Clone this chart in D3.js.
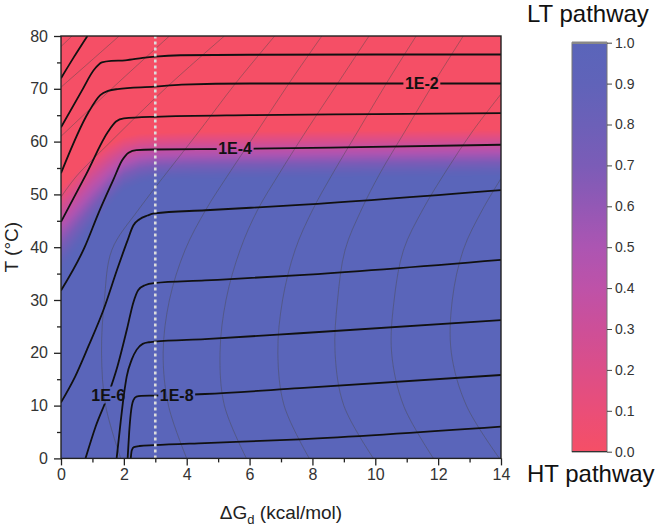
<!DOCTYPE html>
<html><head><meta charset="utf-8">
<script src="https://cdn.jsdelivr.net/npm/d3@7"></script>
<style>
body{margin:0;background:#fff}
svg{display:block}
text{font-family:"Liberation Sans",Arial,sans-serif}
</style>
</head><body>
<svg id="chart" width="666" height="527"></svg>
<script>
// ---------------- data ----------------
const xTicks = [0, 2, 4, 6, 8, 10, 12, 14];
const xMinor = [1, 3, 5, 7, 9, 11, 13];
const yTicks = [0, 10, 20, 30, 40, 50, 60, 70, 80];
const yMinor = [5, 15, 25, 35, 45, 55, 65, 75];
const cbTicks = [0, 0.1, 0.2, 0.3, 0.4, 0.5, 0.6, 0.7, 0.8, 0.9, 1.0];
const cbColors = ["#f54f66", "#ea4e78", "#dc4e88", "#cd4f98", "#be52a8", "#ac55b2",
                  "#9358b5", "#7b5cb7", "#6c60b8", "#6063b9", "#5a65ba"];
// 0.5 boundary of the LT/HT map (x, T) and half-width of the transition (T)
const boundaryX = [0, 0.5, 1.0, 1.5, 2.0, 2.5, 3, 4, 6, 8, 10, 12, 14];
const boundaryT = [43.5, 47, 50.5, 53.5, 55.8, 56.8, 57.2, 57.4, 57.5, 57.6, 57.7, 57.8, 57.9];
const boundaryW = [8, 7.5, 7, 6, 5.2, 4.8, 4.5, 4.5, 4.5, 4.5, 4.5, 4.5, 4.5];
// black contour lines [ΔGd, T]
const c1E0 = [[0,72],[0.4,75.9],[0.84,80]];
const c1E1 = [[0,62.7],[0.66,69.6],[1.05,73.6],[1.3,75.0],[1.6,75.3],[2.04,75.4],[2.6,75.85],[3,76.1],[3.8,76.35],[6,76.45],[10,76.5],[14,76.5]];
const c1E2 = [[0,54],[0.87,65.5],[1.25,68.8],[1.5,69.6],[1.8,69.95],[2.97,70.4],[3.84,70.8],[6,71.0],[10,71.0],[14,71.0]];
const c1E3 = [[0,44.8],[0.8,53.8],[1.5,61.9],[1.75,63.8],[2.0,64.4],[2.97,64.7],[6,65.0],[10,65.2],[14,65.4]];
const c1E4 = [[0,31.8],[0.76,40.1],[1.19,46.4],[1.66,52.7],[1.95,56.5],[2.15,57.9],[2.4,58.4],[2.97,58.5],[5.5,58.6],[9,58.9],[14,59.4]];
const c1E5 = [[0,10.6],[0.45,15.5],[0.87,21.2],[1.35,28.1],[1.8,36],[2.1,41],[2.3,44.1],[2.5,45.3],[2.75,46.0],[2.97,46.4],[4.6,47.0],[7.6,48.0],[14,50.8]];
const c1E6 = [[0.78,0],[1.1,6],[1.5,12],[1.8,17.5],[2.1,24.5],[2.3,29.5],[2.46,31.9],[2.67,32.8],[2.96,33.2],[4.58,33.7],[7.6,34.7],[14,37.6]];
const c1E7 = [[1.77,0],[1.9,7],[2.0,12],[2.09,15.5],[2.25,18.7],[2.41,20.6],[2.6,21.7],[2.8,22.0],[2.96,22.1],[4.58,22.6],[7.6,23.7],[14,26.2]];
const c1E8 = [[2.12,0],[2.17,5],[2.22,8.5],[2.3,11.0],[2.4,11.7],[2.55,11.85],[2.96,11.9],[4.58,12.2],[7.6,13.3],[14,15.8]];
const c1E9 = [[2.22,0],[2.25,1.5],[2.32,2.15],[2.5,2.35],[2.96,2.5],[4.58,2.9],[7.6,3.6],[14,6.0]];
// contour labels
const labelText = ["1E-2", "1E-4", "1E-6", "1E-8"];
const labelX = [11.48, 5.54, 1.5, 3.68];
const labelT = [71.0, 58.6, 12.0, 12.0];
// thin grey lines [ΔGd, T]
const g0 = [[0,78],[0.35,80]];
const g1 = [[0,70.3],[0.9,75],[1.85,80]];
const g2 = [[0,61],[1.7,70.5],[3.45,80]];
const g3 = [[0,49.5],[0.5,53.5],[1.5,59.5],[3.4,70.5],[5.2,80]];
const g4 = [[1.9,0],[1.42,10],[1.29,20],[1.38,30],[1.62,39.5],[2.45,47],[3.35,54],[4.4,62],[5.55,71],[6.8,80]];
const g5 = [[4.0,0],[3.42,10],[3.25,20],[3.45,30],[3.95,39.5],[4.6,47],[5.35,54],[6.25,62],[7.25,71],[8.3,80]];
const g6 = [[5.9,0],[5.2,10],[5.06,20],[5.25,30],[5.7,39.5],[6.25,47],[6.95,54],[7.8,62],[8.8,71],[9.8,80]];
const g7 = [[7.9,0],[7.1,10],[6.9,20],[7.05,30],[7.45,39.5],[8.0,47],[8.65,54],[9.45,62],[10.35,71],[11.3,80]];
const g8 = [[9.94,0],[9.0,10],[8.72,20],[8.8,30],[9.04,39.5],[9.55,47],[10.15,54],[10.95,62],[11.85,71],[12.8,80]];
const g9 = [[11.85,0],[10.9,10],[10.52,20],[10.6,30],[10.9,39.5],[11.5,47],[12.27,54.6],[13.1,62],[14,69]];
const g10 = [[13.95,0],[12.9,10],[12.42,20],[12.45,30],[12.8,39.5],[13.4,47],[14,53]];
const dividerX = 3;

// ---------------- layout ----------------
const svg = d3.select("#chart");
const x = d3.scaleLinear().domain([0, 14]).range([61, 501]);
const y = d3.scaleLinear().domain([0, 80]).range([458.4, 36]);
const color = d3.scaleLinear().domain(cbTicks).range(cbColors).clamp(true);
const bT = d3.scaleLinear().domain(boundaryX).range(boundaryT).clamp(true);
const bW = d3.scaleLinear().domain(boundaryX).range(boundaryW).clamp(true);

const x0 = x(0), x1 = x(14), yTop = y(80), yBot = y(0);
const W = Math.round(x1 - x0), H = Math.round(yBot - yTop);
const cv = document.createElement("canvas");
cv.width = W; cv.height = H;
const ctx = cv.getContext("2d");
const img = ctx.createImageData(W, H);
for (let i = 0; i < W; i++) {
  const xv = x.invert(x0 + i + 0.5);
  const tb = bT(xv), w = bW(xv);
  const v = d3.scaleLinear().domain([tb - w, tb + w]).range([1, 0]).clamp(true);
  for (let j = 0; j < H; j++) {
    const tv = y.invert(yTop + j + 0.5);
    const c = d3.rgb(color(v(tv)));
    const k = (j * W + i) * 4;
    img.data[k] = c.r; img.data[k+1] = c.g; img.data[k+2] = c.b; img.data[k+3] = 255;
  }
}
ctx.putImageData(img, 0, 0);

const defs = svg.append("defs");
defs.append("clipPath").attr("id", "plotClip")
  .append("rect").attr("x", x0).attr("y", yTop).attr("width", x1 - x0).attr("height", yBot - yTop);

svg.append("image").attr("href", cv.toDataURL())
  .attr("x", x0).attr("y", yTop).attr("width", x1 - x0).attr("height", yBot - yTop)
  .attr("preserveAspectRatio", "none");

const line = d3.line().x(d => x(d[0])).y(d => y(d[1])).curve(d3.curveCatmullRom.alpha(0.5));
const lineM = d3.line().x(d => x(d[0])).y(d => y(d[1])).curve(d3.curveMonotoneX);

const plot = svg.append("g").attr("clip-path", "url(#plotClip)");

const grey = [g0, g1, g2, g3, g4, g5, g6, g7, g8, g9, g10];
plot.selectAll("path.grey").data(grey).enter().append("path")
  .attr("class", "grey").attr("d", line)
  .attr("fill", "none").attr("stroke", "#4a4a4a").attr("stroke-opacity", 0.55).attr("stroke-width", 0.8);

const labelsG = svg.append("g");
const labels = labelsG.selectAll("text").data(labelText).enter().append("text")
  .attr("x", (d, i) => x(labelX[i])).attr("y", (d, i) => y(labelT[i]))
  .attr("text-anchor", "middle").attr("dominant-baseline", "central")
  .attr("font-size", 16).attr("font-weight", "bold").attr("fill", "#111")
  .text(d => d);

const contours = [c1E0, c1E1, c1E2, c1E3, c1E4, c1E5, c1E6, c1E7, c1E8, c1E9];
const labelOf = {2: 0, 4: 1, 6: 2, 8: 3};
contours.forEach((c, idx) => {
  let maskAttr = null;
  if (labelOf[idx] !== undefined) {
    const li = labelOf[idx];
    const bb = labels.nodes()[li].getBBox();
    const m = defs.append("mask").attr("id", "m" + idx).attr("maskUnits", "userSpaceOnUse")
      .attr("x", 0).attr("y", 0).attr("width", 666).attr("height", 527);
    m.append("rect").attr("x", 0).attr("y", 0).attr("width", 666).attr("height", 527).attr("fill", "#fff");
    m.append("rect").attr("x", bb.x - 1.5).attr("y", bb.y).attr("width", bb.width + 3).attr("height", bb.height).attr("fill", "#000");
    maskAttr = "url(#m" + idx + ")";
  }
  const p = plot.append("path").attr("d", lineM(c))
    .attr("fill", "none").attr("stroke", "#111").attr("stroke-width", 1.8).attr("stroke-linejoin", "round");
  if (maskAttr) p.attr("mask", maskAttr);
});
labelsG.raise();

svg.append("line").attr("x1", x(dividerX)).attr("x2", x(dividerX)).attr("y1", y(0)).attr("y2", y(80))
  .attr("stroke", "#dcdcdc").attr("stroke-width", 2.6).attr("stroke-dasharray", "3,3");

const axisColor = "#222";
svg.append("g").attr("transform", `translate(0,${yBot})`)
  .call(d3.axisBottom(x).tickValues(xTicks).tickSize(7).tickPadding(3).tickFormat(d3.format("d")));
svg.append("g").attr("transform", `translate(0,${yBot})`)
  .call(d3.axisBottom(x).tickValues(xMinor).tickSize(4).tickFormat(""));
svg.append("g").attr("transform", `translate(${x0},0)`)
  .call(d3.axisLeft(y).tickValues(yTicks).tickSize(7).tickPadding(6).tickFormat(d3.format("d")));
svg.append("g").attr("transform", `translate(${x0},0)`)
  .call(d3.axisLeft(y).tickValues(yMinor).tickSize(4).tickFormat(""));
svg.selectAll(".domain").remove();
svg.selectAll(".tick line").attr("stroke", axisColor).attr("stroke-width", 1.3);
svg.selectAll(".tick text").attr("font-size", 16).attr("fill", "#333")
  .attr("font-family", '"Liberation Sans",Arial,sans-serif');

svg.append("rect").attr("x", x0).attr("y", yTop).attr("width", x1 - x0).attr("height", yBot - yTop)
  .attr("fill", "none").attr("stroke", axisColor).attr("stroke-width", 1.4);

const xt = svg.append("text").attr("x", (x0 + x1) / 2).attr("y", 519).attr("text-anchor", "middle")
  .attr("font-size", 19).attr("fill", "#222");
xt.append("tspan").text("ΔG");
xt.append("tspan").attr("font-size", 13).attr("dy", 5).text("d");
xt.append("tspan").attr("dy", -5).text(" (kcal/mol)");
svg.append("text").attr("transform", `translate(18,${(yTop + yBot) / 2}) rotate(-90)`)
  .attr("text-anchor", "middle").attr("font-size", 19).attr("fill", "#222").text("T (°C)");

const cbX = 572, cbW = 35, cbTop = 42.7, cbBot = 451.7;
const cy = d3.scaleLinear().domain([0, 1]).range([cbBot, cbTop]);
const grad = defs.append("linearGradient").attr("id", "cbGrad")
  .attr("x1", 0).attr("y1", 1).attr("x2", 0).attr("y2", 0);
grad.selectAll("stop").data(cbTicks).enter().append("stop")
  .attr("offset", d => d).attr("stop-color", (d, i) => cbColors[i]);
svg.append("rect").attr("x", cbX).attr("y", cbTop).attr("width", cbW).attr("height", cbBot - cbTop)
  .attr("fill", "url(#cbGrad)").attr("stroke", "#777").attr("stroke-width", 1);
svg.append("line").attr("x1", cbX).attr("x2", cbX + cbW).attr("y1", cbTop).attr("y2", cbTop)
  .attr("stroke", "#888").attr("stroke-width", 2.5);
svg.append("line").attr("x1", cbX).attr("x2", cbX + cbW).attr("y1", cbBot).attr("y2", cbBot)
  .attr("stroke", "#333").attr("stroke-width", 1.2);
const cbAxis = svg.append("g").attr("transform", `translate(${cbX + cbW},0)`)
  .call(d3.axisRight(cy).tickValues(cbTicks).tickSize(5).tickPadding(3).tickFormat(d3.format(".1f")));
cbAxis.select(".domain").remove();
cbAxis.selectAll(".tick line").attr("stroke", "#444").attr("stroke-width", 1);
cbAxis.selectAll(".tick text").attr("font-size", 14).attr("fill", "#333")
  .attr("font-family", '"Liberation Sans",Arial,sans-serif');

svg.append("text").attr("x", 527).attr("y", 22).attr("font-size", 24).attr("fill", "#111").text("LT pathway");
svg.append("text").attr("x", 527).attr("y", 482).attr("font-size", 24).attr("fill", "#111").text("HT pathway");
</script>
</body></html>
